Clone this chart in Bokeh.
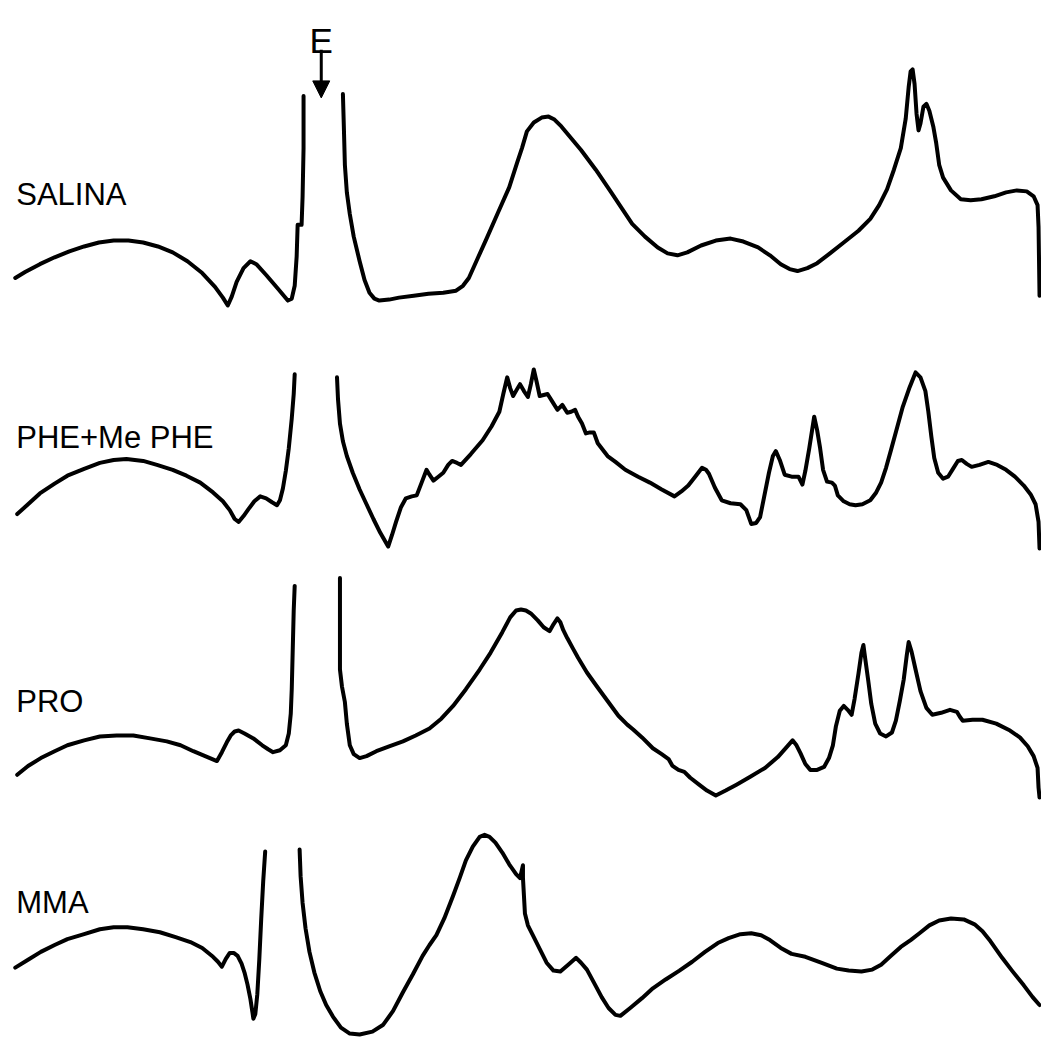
from bokeh.plotting import figure
from bokeh.models import Range1d, Arrow, NormalHead, ColumnDataSource
from bokeh.core.properties import value
from bokeh.embed import file_html
from bokeh.resources import INLINE

# ---------------- data (retention position, detector trace) ----------------
labels = ["SALINA", "PHE+Me PHE", "PRO", "MMA"]
marker_label = "E"

salina_pre_x = [15, 25, 40, 55, 70, 85, 100, 115, 130, 145, 160, 175, 190, 205, 218, 226, 231, 235, 240, 247, 254, 260, 270, 282, 292, 296, 299, 301, 302, 306, 307, 308, 308]
salina_pre_y = [282, 276, 268, 261, 255, 250, 246, 244, 244, 246, 250, 256, 265, 277, 291, 302, 310, 301, 286, 272, 265, 268, 279, 293, 305, 303, 290, 260, 228, 228, 200, 150, 97]
salina_post_x = [348, 349, 350, 352, 355, 359, 365, 370, 375, 380, 385, 395, 405, 420, 435, 450, 463, 470, 476, 485, 494, 505, 517, 525, 530, 535, 542, 550, 557, 563, 570, 580, 590, 605, 620, 632, 642, 655, 668, 678, 688, 698, 712, 727, 742, 755, 770, 782, 793, 802, 810, 820, 830, 843, 857, 872, 884, 893, 901, 908, 915, 920, 923, 925, 927, 929, 931, 933, 935, 938, 941, 944, 948, 951, 954, 958, 966, 976, 986, 997, 1010, 1022, 1033, 1043, 1050, 1054, 1055, 1056]
salina_post_y = [95, 130, 167, 195, 217, 240, 265, 284, 297, 303, 305, 304, 302, 300, 298, 297, 295, 290, 282, 262, 242, 217, 190, 165, 150, 133, 124, 119, 118, 121, 128, 140, 152, 172, 194, 212, 227, 240, 251, 257, 259, 256, 249, 244, 242, 245, 251, 259, 268, 273, 275, 272, 267, 257, 246, 234, 222, 208, 192, 172, 150, 120, 88, 72, 70, 85, 115, 132, 125, 108, 105, 112, 128, 145, 167, 180, 193, 202, 203, 202, 199, 195, 193, 194, 199, 208, 230, 300]

phe_pre_x = [17, 28, 40, 55, 68, 85, 101, 115, 128, 145, 159, 175, 189, 203, 216, 226, 233, 238, 242, 247, 252, 258, 264, 270, 276, 281, 284, 287, 290, 293, 296, 298, 299]
phe_pre_y = [522, 512, 501, 491, 483, 476, 470, 467, 466, 468, 472, 477, 483, 490, 500, 509, 518, 527, 530, 524, 517, 509, 504, 506, 510, 513, 508, 496, 478, 455, 425, 400, 380]
phe_post_x = [342, 343, 345, 348, 352, 358, 365, 372, 379, 386, 394, 398, 402, 407, 412, 418, 423, 428, 433, 436, 440, 445, 450, 455, 459, 464, 468, 478, 490, 499, 507, 511, 515, 518, 521, 525, 528, 532, 536, 539, 542, 545, 548, 552, 556, 561, 566, 571, 576, 580, 584, 587, 591, 595, 599, 603, 607, 617, 625, 635, 648, 660, 672, 685, 692, 699, 706, 713, 717, 720, 726, 733, 742, 752, 758, 763, 768, 772, 776, 781, 785, 788, 792, 797, 804, 811, 815, 818, 822, 827, 830, 833, 836, 840, 845, 848, 851, 857, 863, 869, 876, 884, 890, 895, 900, 905, 911, 917, 924, 930, 935, 940, 943, 946, 949, 953, 958, 963, 968, 973, 977, 982, 987, 995, 1004, 1013, 1022, 1031, 1040, 1047, 1052, 1055, 1056]
phe_post_y = [383, 405, 430, 448, 463, 480, 497, 512, 527, 541, 555, 543, 530, 515, 506, 504, 503, 490, 477, 482, 488, 484, 480, 472, 468, 470, 472, 461, 447, 433, 418, 400, 383, 394, 402, 395, 390, 397, 403, 390, 375, 388, 402, 401, 400, 408, 416, 411, 419, 418, 416, 423, 430, 440, 439, 439, 450, 463, 469, 477, 484, 490, 497, 504, 499, 493, 484, 475, 477, 481, 495, 508, 511, 512, 518, 532, 531, 525, 505, 480, 463, 458, 467, 482, 484, 484, 492, 478, 455, 423, 437, 455, 477, 489, 490, 493, 503, 509, 512, 513, 512, 508, 500, 490, 475, 457, 435, 413, 393, 378, 383, 397, 418, 443, 465, 480, 486, 484, 476, 468, 467, 471, 474, 472, 469, 472, 477, 484, 493, 502, 512, 530, 557]

pro_pre_x = [17, 28, 41, 55, 68, 85, 101, 118, 135, 152, 169, 183, 196, 208, 220, 225, 230, 234, 238, 242, 248, 257, 266, 272, 277, 284, 290, 293, 295, 296, 297, 298, 299]
pro_pre_y = [787, 778, 770, 763, 757, 752, 748, 747, 747, 750, 753, 757, 763, 768, 773, 764, 754, 747, 743, 742, 745, 750, 757, 761, 764, 762, 757, 745, 725, 700, 660, 620, 595]
pro_post_x = [345, 345, 345, 347, 350, 352, 355, 359, 365, 372, 382, 395, 409, 422, 436, 448, 460, 473, 487, 498, 510, 518, 524, 529, 534, 539, 546, 552, 558, 562, 566, 569, 572, 576, 582, 587, 596, 606, 617, 628, 637, 643, 652, 663, 672, 679, 683, 689, 695, 701, 710, 718, 727, 737, 748, 762, 777, 790, 805, 809, 813, 818, 823, 830, 837, 842, 846, 849, 853, 857, 861, 865, 868, 872, 875, 877, 879, 882, 885, 889, 894, 900, 906, 910, 914, 918, 921, 923, 926, 930, 935, 941, 947, 956, 965, 972, 975, 978, 988, 998, 1012, 1026, 1036, 1044, 1050, 1054, 1055, 1056]
pro_post_y = [587, 630, 680, 697, 713, 735, 757, 766, 770, 768, 763, 758, 753, 747, 740, 730, 717, 700, 680, 663, 642, 627, 620, 619, 620, 623, 630, 637, 641, 634, 628, 632, 640, 648, 659, 668, 683, 697, 712, 727, 736, 741, 749, 760, 766, 771, 778, 782, 784, 790, 797, 803, 808, 803, 797, 789, 780, 769, 752, 757, 765, 776, 782, 782, 779, 770, 757, 738, 722, 717, 721, 726, 710, 684, 663, 655, 670, 692, 715, 735, 745, 748, 744, 732, 712, 690, 666, 652, 662, 680, 702, 719, 726, 724, 721, 723, 728, 732, 731, 731, 735, 742, 749, 758, 768, 780, 800, 810]

mma_pre_x = [15, 28, 41, 55, 68, 85, 101, 115, 129, 145, 162, 178, 193, 205, 216, 221, 225, 229, 233, 237, 241, 245, 248, 251, 254, 256, 257, 259, 261, 263, 265, 267, 269]
mma_pre_y = [983, 975, 967, 960, 954, 949, 944, 942, 942, 944, 947, 952, 957, 963, 972, 977, 982, 974, 968, 968, 971, 979, 988, 1000, 1015, 1028, 1035, 1030, 1010, 975, 933, 895, 865]
mma_post_x = [304, 305, 307, 310, 314, 319, 325, 331, 338, 346, 355, 365, 378, 389, 399, 409, 419, 429, 436, 443, 451, 460, 467, 473, 480, 487, 492, 497, 503, 510, 517, 524, 528, 531, 531, 532, 533, 536, 541, 548, 555, 562, 569, 577, 585, 590, 596, 603, 611, 618, 625, 630, 640, 652, 663, 676, 690, 703, 716, 729, 740, 752, 763, 773, 782, 793, 804, 818, 834, 850, 862, 875, 886, 895, 905, 915, 925, 934, 944, 954, 966, 979, 990, 998, 1006, 1018, 1028, 1040, 1049, 1056]
mma_post_y = [863, 890, 917, 943, 967, 988, 1007, 1021, 1033, 1044, 1050, 1051, 1048, 1041, 1027, 1008, 990, 971, 960, 950, 933, 910, 891, 874, 860, 850, 848, 850, 856, 866, 878, 888, 892, 879, 892, 910, 928, 940, 950, 964, 978, 986, 987, 980, 973, 978, 985, 998, 1013, 1024, 1031, 1032, 1024, 1014, 1004, 995, 986, 977, 967, 958, 953, 949, 948, 950, 955, 963, 969, 972, 978, 984, 986, 987, 985, 980, 971, 962, 955, 948, 940, 935, 933, 934, 939, 946, 956, 973, 986, 1001, 1013, 1021]

segments = [
    (salina_pre_x, salina_pre_y), (salina_post_x, salina_post_y),
    (phe_pre_x, phe_pre_y), (phe_post_x, phe_post_y),
    (pro_pre_x, pro_pre_y), (pro_post_x, pro_post_y),
    (mma_pre_x, mma_pre_y), (mma_post_x, mma_post_y),
]

# ---------------- layout / style ----------------
W, H = 1041, 1037
p = figure(width=W, height=H, output_backend="svg", toolbar_location=None,
           x_range=Range1d(0, 1058), y_range=Range1d(1054, 0),
           min_border=0, background_fill_color="white", border_fill_color="white")
p.axis.visible = False
p.xgrid.visible = False
p.ygrid.visible = False
p.outline_line_color = None

for xs, ys in segments:
    p.line(xs, ys, line_color="black", line_width=4, line_join="round", line_cap="round")

label_x = [16, 16, 16, 16]
label_y = [197, 444, 712, 917]
src = ColumnDataSource(dict(x=label_x, y=label_y, t=labels))
p.text(x="x", y="y", text="t", source=src, text_font=value("Liberation Sans"),
       text_font_size="31px", text_color="black", text_baseline="alphabetic",
       text_align="left")

p.text(x=[326], y=[41], text=[marker_label], text_font=value("Liberation Sans"),
       text_font_size="35px", text_color="black", text_baseline="alphabetic",
       text_align="center")
p.add_layout(Arrow(end=NormalHead(size=17, fill_color="black", line_color="black"),
                   x_start=326, y_start=50, x_end=326, y_end=99,
                   line_width=3, line_color="black"))

open("out.html", "w").write(file_html(p, INLINE))
